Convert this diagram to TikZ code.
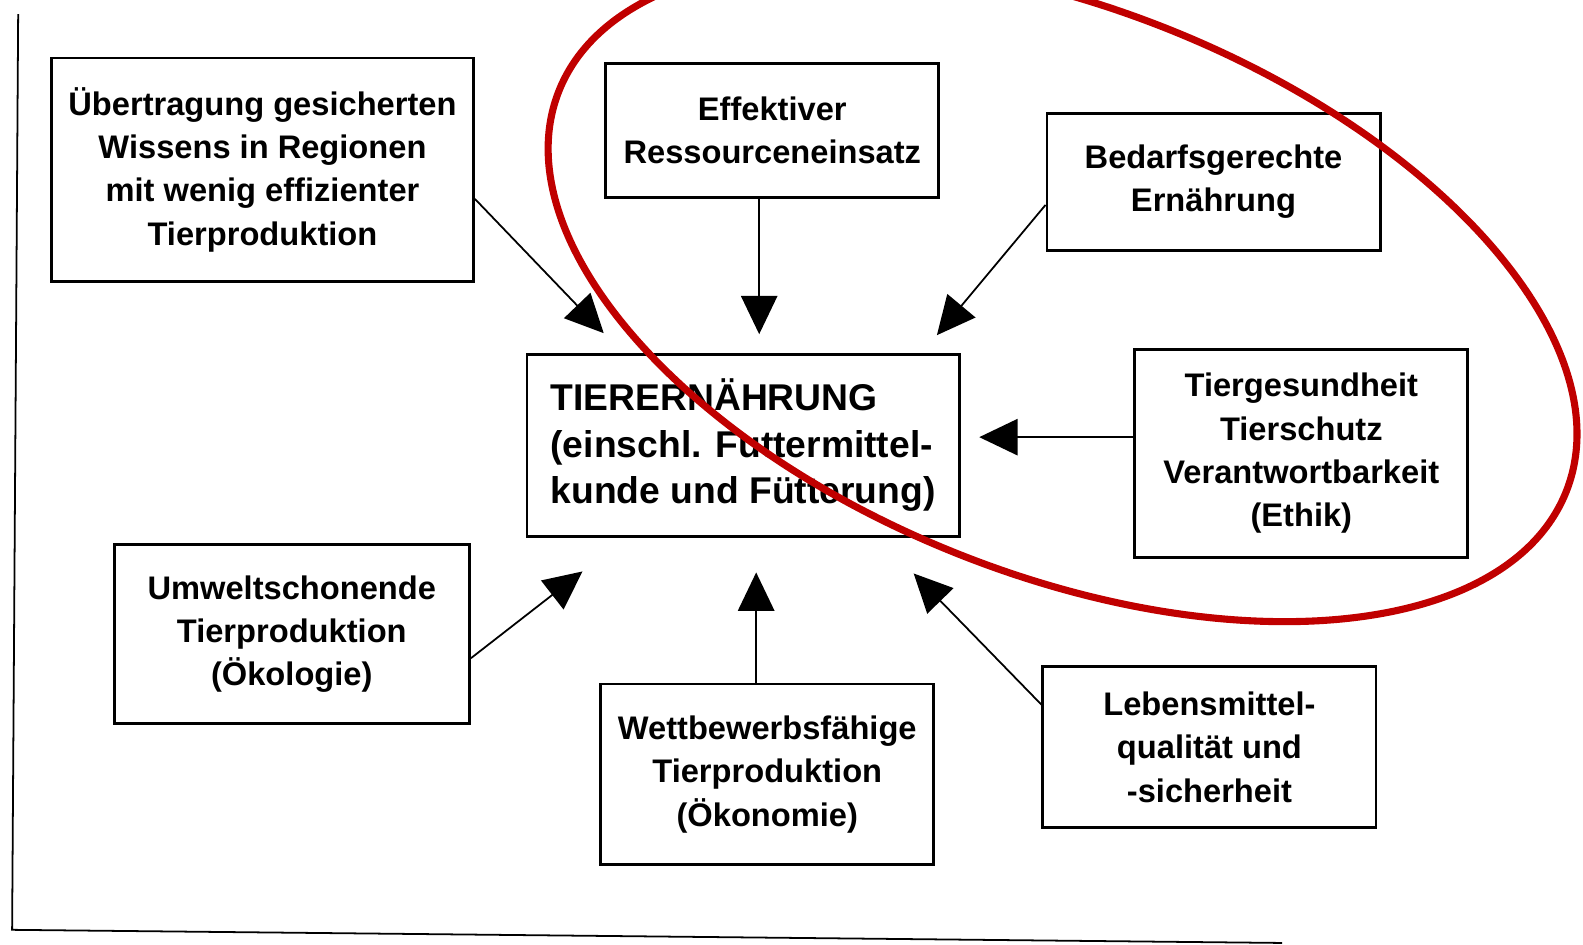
\documentclass[tikz,border=0pt]{standalone}
\usepackage{fontspec}
\setmainfont{Liberation Sans}
\usetikzlibrary{arrows.meta}
\definecolor{ringred}{RGB}{192,0,0}

\begin{document}
\begin{tikzpicture}[
  x=0.1mm, y=0.1mm,
  box/.style={draw, line width=0.8pt, align=center, inner sep=0pt,
              font=\bfseries\fontsize{9.2}{12.2}\selectfont},
  core/.style={draw, line width=0.8pt, align=left, inner sep=0pt,
               font=\bfseries\fontsize{10.5}{13.1}\selectfont,
               minimum width=42.8mm, minimum height=18mm},
  arr/.style={-{Triangle[length=3.8mm, width=3.6mm]}, line width=0.5pt},
  ring/.style={draw=ringred, line width=2pt},
  edge/.style={line width=0.5pt}]

\useasboundingbox (0,0) rectangle (1568,-936);
\clip (0,0) rectangle (1568,-936);

\node[box, minimum width=41.8mm, minimum height=22.1mm] (uebertr) at (260,-168)
  {Übertragung gesicherten\\Wissens in Regionen\\mit wenig effizienter\\Tierproduktion};
\node[box, minimum width=33mm, minimum height=13.3mm] (effektiv) at (765,-129)
  {Effektiver\\Ressourceneinsatz};
\node[box, minimum width=33mm, minimum height=13.6mm] (bedarf) at (1202,-180)
  {Bedarfsgerechte\\Ernährung};
\node[core] (tierern) at (736,-441)
  {TIERERNÄHRUNG\\(einschl. Futtermittel-\\kunde und Fütterung)};
\node[box, minimum width=33mm, minimum height=20.6mm] (tiergesund) at (1289,-449)
  {Tiergesundheit\\Tierschutz\\Verantwortbarkeit\\(Ethik)};
\node[box, minimum width=35.2mm, minimum height=17.8mm] (umwelt) at (289,-628)
  {Umweltschonende\\Tierproduktion\\(Ökologie)};
\node[box, minimum width=33mm, minimum height=17.9mm] (wettbew) at (760,-767)
  {Wettbewerbsfähige\\Tierproduktion\\(Ökonomie)};
\node[box, minimum width=33mm, minimum height=16mm] (lebens) at (1198,-740)
  {Lebensmittel-\\qualität und\\-sicherheit};

\coordinate (aUeb) at (598,-330);
\coordinate (aEff) at (752,-331);
\coordinate (aBed) at (928,-332);
\coordinate (aTie) at (970,-433);
\coordinate (aUmw) at (577,-566);
\coordinate (aWet) at (749,-567);
\coordinate (aLeb) at (905,-568);

\draw[arr] ([yshift=-2.9mm]uebertr.east) -- (aUeb);
\draw[arr] (effektiv.south -| aEff) -- (aEff);
\draw[arr] ([yshift=-2.3mm]bedarf.west) -- (aBed);
\draw[arr] (tiergesund.west |- aTie) -- (aTie);
\draw[arr] ([yshift=-2.4mm]umwelt.east) -- (aUmw);
\draw[arr] (wettbew.north -| aWet) -- (aWet);
\draw[arr] ([yshift=4.2mm]lebens.west) -- (aLeb);

\draw[edge] (18,-14) -- (12,-921) -- (1270,-934);

\draw[ring, rotate around={-21.7:(1052.5,-288.5)}] (1052.5,-288.5)
  ellipse [x radius=536.9, y radius=280];
\end{tikzpicture}
\end{document}
